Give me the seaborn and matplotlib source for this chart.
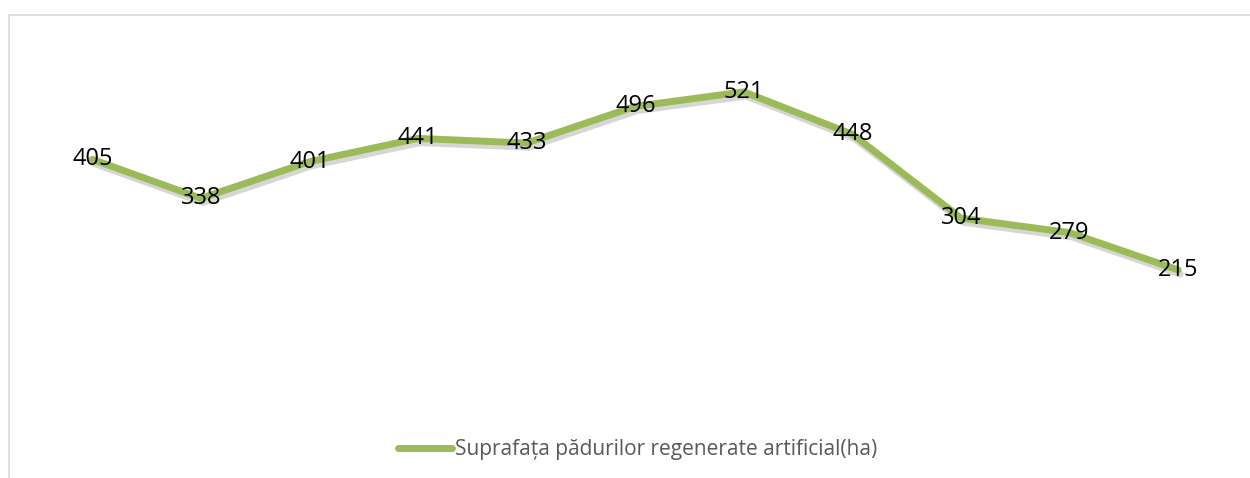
import pandas as pd
import matplotlib.pyplot as plt
import matplotlib.patheffects as pe
from matplotlib.patches import Rectangle
import seaborn as sns

points = list(range(11))
values = [405, 338, 401, 441, 433, 496, 521, 448, 304, 279, 215]
series_name = "Suprafața pădurilor regenerate artificial(ha)"

df = pd.DataFrame({"pos": points, "val": values, "serie": series_name})

sns.set_style("white")
plt.rcParams["font.family"] = ["Open Sans", "DejaVu Sans"]

fig = plt.figure(figsize=(12.5, 4.78), dpi=100)
ax = fig.add_axes([0.0304, 0.1736, 0.9556, 0.7304])

green = "#9BBB59"
sns.lineplot(data=df, x="pos", y="val", hue="serie", palette=[green],
             linewidth=5, ax=ax, legend=False)
line = ax.lines[0]
line.set_solid_capstyle("round")
line.set_solid_joinstyle("round")
line.set_path_effects([pe.SimpleLineShadow(offset=(1.5, -3), shadow_color="#8c8c8c", alpha=0.35),
                       pe.Normal()])

for x, y in zip(points, values):
    ax.text(x, y, str(y), ha="center", va="center", fontsize=17, color="black")

ax.set_xlim(-0.5, 10.5)
ax.set_ylim(0, 600)
ax.axis("off")

# legend
handle = plt.Line2D([], [], color=green, linewidth=5, solid_capstyle="round")
fig.legend([handle], [series_name], loc="center", bbox_to_anchor=(0.51, 0.06),
           frameon=False, fontsize=15, labelcolor="#595959",
           handlelength=2.6, handletextpad=0.1)

# chart border
fig.patches.append(Rectangle((0.0072, -0.1), 1.2, 1.0 - 0.031 + 0.1, transform=fig.transFigure,
                             fill=False, edgecolor="#D9D9D9", linewidth=1.2))

fig.savefig("out.png", dpi=100, facecolor="white")
